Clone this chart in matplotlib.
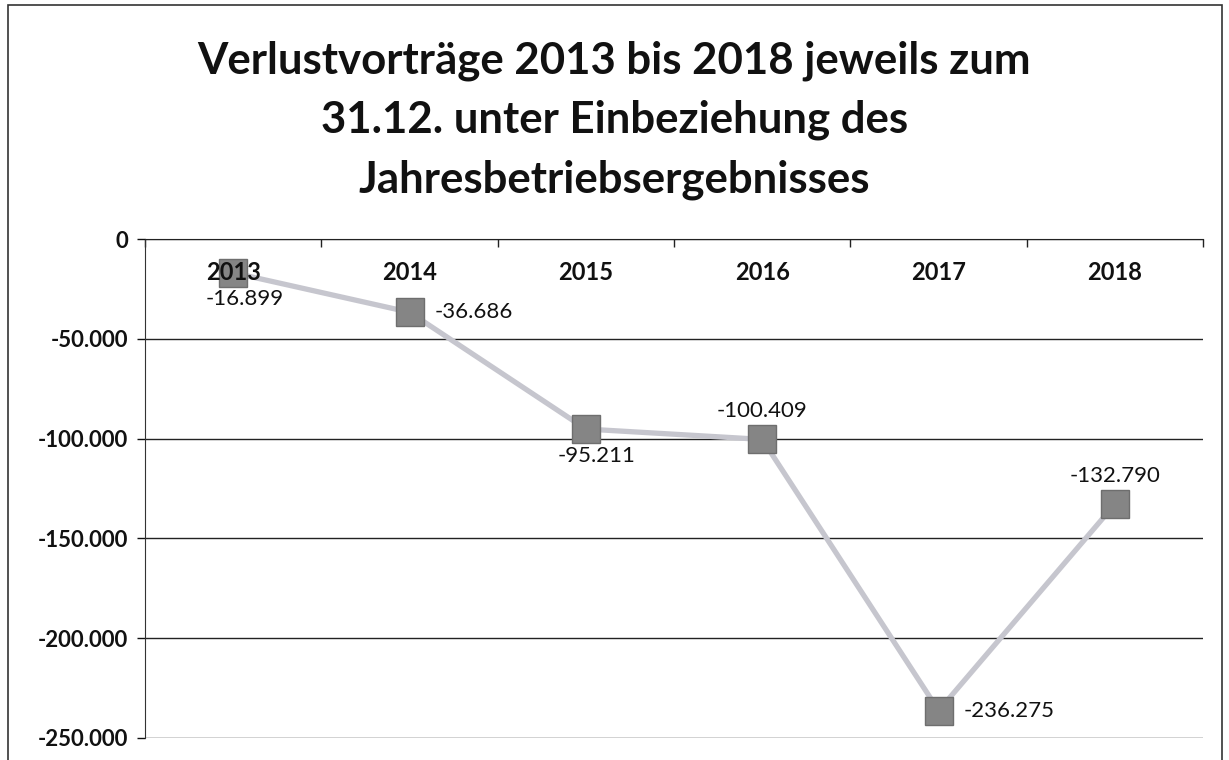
import matplotlib

matplotlib.use("Agg")
import matplotlib.pyplot as plt
from matplotlib.patches import Rectangle
from matplotlib.ticker import FuncFormatter
import matplotlib.transforms as mtransforms

years = ["2013", "2014", "2015", "2016", "2017", "2018"]
values = [-16899, -36686, -95211, -100409, -236275, -132790]
# where each data label sits relative to its marker
label_pos = ["below", "right", "below", "above", "right", "above"]

TITLE = ("Verlustvorträge 2013 bis 2018 jeweils zum\n"
         "31.12. unter Einbeziehung des\n"
         "Jahresbetriebsergebnisses")

plt.rcParams["font.family"] = ["Lato", "DejaVu Sans"]


def fmt_de(v, _=None):
    s = f"{abs(v):,.0f}".replace(",", ".")
    return ("-" if v < 0 else "") + s


def main():
    fig = plt.figure(figsize=(12.29, 7.6), dpi=100)
    ax = fig.add_axes([0.118, 0.029, 0.861, 0.6565])

    x = list(range(len(years)))
    ax.plot(x, values, color="#c6c6ce", lw=3.8, zorder=2)
    ax.plot(x, values, ls="none", marker="s", ms=20, mfc="#858585",
            mec="#6e6e6e", mew=1.0, zorder=3)

    offs = {"below": (8, -12, "center", "top"),
            "above": (0, 13, "center", "bottom"),
            "right": (18, 0, "left", "center")}
    for xi, v, p in zip(x, values, label_pos):
        dx, dy, ha, va = offs[p]
        ax.annotate(fmt_de(v), (xi, v), xytext=(dx, dy), textcoords="offset points",
                    ha=ha, va=va, fontsize=16, color="#111111", zorder=4)

    # category labels sit just under the top axis line
    trans = mtransforms.blended_transform_factory(ax.transData, ax.transAxes)
    for xi, yr in zip(x, years):
        ax.text(xi, 0.932, yr, transform=trans, ha="center", va="center",
                fontsize=17, fontweight="bold", color="#111111", zorder=5)

    ax.set_xlim(-0.5, len(years) - 0.5)
    ax.set_ylim(-250000, 0)
    ax.set_yticks(range(-250000, 1, 50000))
    ax.yaxis.set_major_formatter(FuncFormatter(fmt_de))
    for lab in ax.get_yticklabels():
        lab.set_fontweight("bold")
    ax.tick_params(axis="y", labelsize=16, length=6, width=1, colors="#111111", pad=6)

    ax.xaxis.set_ticks_position("top")
    ax.set_xticks([i - 0.5 for i in range(len(years) + 1)])
    ax.set_xticklabels([])
    ax.tick_params(axis="x", direction="in", length=6, width=1, colors="#222222")

    ax.grid(axis="y", color="#222222", lw=1.0)
    ax.set_axisbelow(True)
    for s in ("right", "bottom"):
        ax.spines[s].set_visible(False)
    ax.spines["left"].set_color("#333333")
    ax.spines["top"].set_color("#222222")

    fig.text(0.5, 0.842, TITLE, ha="center", va="center", fontsize=31.5,
             fontweight="bold", color="#111111", linespacing=1.58)

    fig.add_artist(Rectangle((8 / 1229, -0.01), 1214 / 1229, 1.0 - 5 / 760 + 0.01,
                             transform=fig.transFigure, fill=False,
                             ec="#333333", lw=1.2))

    fig.savefig("out.png", dpi=100, facecolor="white")


if __name__ == "__main__":
    main()
